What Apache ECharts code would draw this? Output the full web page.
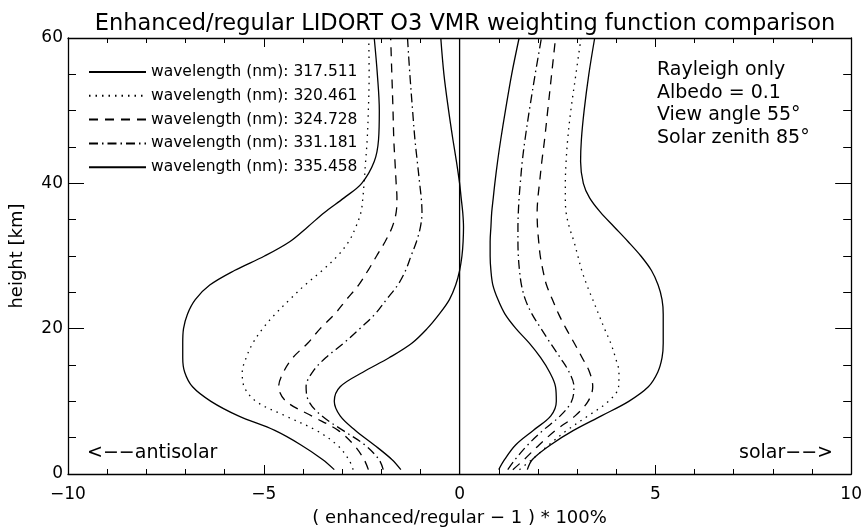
<!DOCTYPE html>
<html>
<head>
<meta charset="utf-8">
<script src="https://cdn.jsdelivr.net/npm/echarts@6/dist/echarts.min.js"></script>
<style>
html,body{margin:0;padding:0;background:#fff;}
#chart{width:865px;height:532px;}
</style>
</head>
<body>
<div id="chart"></div>
<script>
// Heights (km) shared by every curve
const heights = [0.6, 2, 4, 6, 8, 10, 12, 14, 16, 18, 20, 22, 24, 26, 28, 30, 32, 34, 36, 38, 40, 43, 46, 50, 55, 60];

// Wavelength labels
const wavelengths = ['317.511', '320.461', '324.728', '331.181', '335.458'];

// Antisolar (left) side, % differences
const left317 = [-3.2, -3.5, -4.05, -4.72, -5.65, -6.35, -6.82, -7.02, -7.07, -7.07, -7.05, -6.95, -6.75, -6.38, -5.75, -4.98, -4.33, -3.88, -3.45, -2.95, -2.5, -2.18, -2.07, -2.05, -2.1, -2.18];
const left320 = [-2.72, -2.83, -3.13, -3.66, -4.45, -5.2, -5.5, -5.55, -5.45, -5.28, -5.03, -4.71, -4.34, -3.95, -3.51, -3.12, -2.83, -2.65, -2.52, -2.47, -2.44, -2.4, -2.36, -2.33, -2.31, -2.32];
const left324 = [-2.33, -2.44, -2.7, -3.1, -3.78, -4.43, -4.62, -4.5, -4.26, -3.88, -3.56, -3.19, -2.89, -2.58, -2.34, -2.12, -1.9, -1.72, -1.62, -1.6, -1.62, -1.65, -1.68, -1.7, -1.73, -1.76];
const left331 = [-1.95, -2.06, -2.42, -2.98, -3.52, -3.85, -3.92, -3.76, -3.42, -2.96, -2.55, -2.16, -1.87, -1.58, -1.38, -1.24, -1.1, -1.0, -0.96, -0.98, -1.02, -1.08, -1.14, -1.2, -1.27, -1.33];
const left335 = [-1.5, -1.73, -2.18, -2.66, -3.05, -3.2, -3.05, -2.47, -1.8, -1.22, -0.83, -0.52, -0.26, -0.1, 0.0, 0.06, 0.09, 0.1, 0.08, 0.04, 0.0, -0.08, -0.17, -0.28, -0.4, -0.48];

// Solar (right) side, % differences
const right317 = [1.73, 1.86, 2.32, 2.91, 3.62, 4.32, 4.82, 5.06, 5.17, 5.2, 5.2, 5.2, 5.17, 5.07, 4.9, 4.63, 4.3, 3.95, 3.6, 3.32, 3.16, 3.09, 3.11, 3.18, 3.3, 3.45];
const right320 = [1.53, 1.85, 2.28, 2.74, 3.28, 3.8, 4.06, 4.07, 3.98, 3.86, 3.7, 3.55, 3.4, 3.25, 3.12, 3.02, 2.92, 2.8, 2.72, 2.7, 2.7, 2.72, 2.76, 2.84, 2.97, 3.1];
const right324 = [1.36, 1.65, 2.03, 2.45, 2.95, 3.28, 3.4, 3.32, 3.13, 2.93, 2.72, 2.53, 2.37, 2.22, 2.13, 2.06, 2.02, 1.99, 1.98, 2.0, 2.04, 2.1, 2.17, 2.25, 2.35, 2.45];
const right331 = [1.23, 1.42, 1.74, 2.13, 2.57, 2.86, 2.92, 2.8, 2.57, 2.32, 2.08, 1.85, 1.68, 1.58, 1.53, 1.5, 1.49, 1.49, 1.5, 1.52, 1.55, 1.6, 1.67, 1.78, 1.93, 2.09];
const right335 = [1.0, 1.15, 1.43, 1.88, 2.33, 2.47, 2.45, 2.3, 2.07, 1.78, 1.44, 1.16, 0.98, 0.85, 0.8, 0.78, 0.78, 0.8, 0.82, 0.86, 0.9, 0.97, 1.05, 1.17, 1.33, 1.52];

// Zero reference line
const zeroLine = [[0, 0], [0, 60]];

// Tick label values
const xTicks = [-10, -5, 0, 5, 10];
const yTicks = [0, 20, 40, 60];

const leftSets = [left317, left320, left324, left331, left335];
const rightSets = [right317, right320, right324, right331, right335];
const dashStyles = ['solid', [1.5, 5], [9, 7], [9, 4, 1.5, 4], 'solid'];

const FONT = '"DejaVu Sans", sans-serif';
const names = wavelengths.map(w => 'wavelength (nm): ' + w);
const pair = (xs) => xs.map((x, i) => [x, heights[i]]);
const minus = (v) => String(v).replace('-', '\u2212');

const series = [];
for (let k = 0; k < 5; k++) {
  [leftSets[k], rightSets[k]].forEach(arr => {
    series.push({
      name: names[k], type: 'line', data: pair(arr),
      showSymbol: false, symbol: 'none', smooth: 0.35,
      lineStyle: {color: '#000', width: 1.3, type: dashStyles[k]},
      itemStyle: {color: '#000'}, silent: true
    });
  });
}
series.push({
  name: 'zero', type: 'line', data: zeroLine, showSymbol: false, symbol: 'none',
  lineStyle: {color: '#000', width: 1.3}, silent: true
});

const axisLineStyle = {onZero: false, lineStyle: {color: '#000', width: 1.3}};

const option = {
  animation: false,
  backgroundColor: '#fff',
  title: {
    text: 'Enhanced/regular LIDORT O3 VMR weighting function comparison',
    left: 460, textAlign: 'center', top: 8,
    textStyle: {fontFamily: FONT, fontSize: 22.5, fontWeight: 'normal', color: '#000'}
  },
  legend: {
    show: true,
    data: names, orient: 'vertical', left: 88, top: 64, padding: 0,
    itemWidth: 57, itemHeight: 14, itemGap: 7.8,
    itemStyle: {opacity: 0},
    textStyle: {fontFamily: FONT, fontSize: 15.5, color: '#000'},
    selectedMode: false
  },
  grid: {left: 68, right: 13, top: 38, bottom: 52},
  xAxis: [
    {
      type: 'value', min: xTicks[0], max: xTicks[xTicks.length - 1], interval: 5,
      position: 'bottom', axisLine: axisLineStyle, splitLine: {show: false},
      name: '( enhanced/regular \u2212 1 ) * 100%', nameLocation: 'middle', nameGap: 35,
      nameTextStyle: {fontFamily: FONT, fontSize: 18, color: '#000'},
      axisTick: {inside: true, length: 9, lineStyle: {color: '#000'}},
      minorTick: {show: true, splitNumber: 5, length: 5, lineStyle: {color: '#000'}},
      axisLabel: {fontFamily: FONT, fontSize: 17, color: '#000', margin: 12, formatter: minus}
    },
    {
      type: 'value', min: xTicks[0], max: xTicks[xTicks.length - 1], interval: 5,
      position: 'top', axisLine: axisLineStyle, splitLine: {show: false},
      axisTick: {inside: true, length: 9, lineStyle: {color: '#000'}},
      minorTick: {show: true, splitNumber: 5, length: 5, lineStyle: {color: '#000'}},
      axisLabel: {show: false}
    }
  ],
  yAxis: [
    {
      type: 'value', min: yTicks[0], max: yTicks[yTicks.length - 1], interval: 20,
      position: 'left', axisLine: axisLineStyle, splitLine: {show: false},
      name: 'height [km]', nameLocation: 'middle', nameGap: 42,
      nameTextStyle: {fontFamily: FONT, fontSize: 18, color: '#000'},
      axisTick: {inside: true, length: 16, lineStyle: {color: '#000'}},
      minorTick: {show: true, splitNumber: 4, length: 8, lineStyle: {color: '#000'}},
      axisLabel: {fontFamily: FONT, fontSize: 17, color: '#000', margin: 5}
    },
    {
      type: 'value', min: yTicks[0], max: yTicks[yTicks.length - 1], interval: 20,
      position: 'right', axisLine: axisLineStyle, splitLine: {show: false},
      axisTick: {inside: true, length: 16, lineStyle: {color: '#000'}},
      minorTick: {show: true, splitNumber: 4, length: 8, lineStyle: {color: '#000'}},
      axisLabel: {show: false}
    }
  ],
  graphic: [
    {type: 'text', left: 657, top: 59, silent: true,
      style: {text: 'Rayleigh only\nAlbedo = 0.1\nView angle 55\u00b0\nSolar zenith 85\u00b0',
        font: '19px ' + FONT, fill: '#000', lineHeight: 22.5}},
    {type: 'text', left: 87, top: 444, silent: true,
      style: {text: '<\u2212\u2212antisolar', font: '19px ' + FONT, fill: '#000'}},
    {type: 'text', right: 32, top: 444, silent: true,
      style: {text: 'solar\u2212\u2212>', font: '19px ' + FONT, fill: '#000'}}
  ],
  series: series
};

const chart = echarts.init(document.getElementById('chart'), null, {renderer: 'canvas'});
chart.setOption(option);
</script>
</body>
</html>
